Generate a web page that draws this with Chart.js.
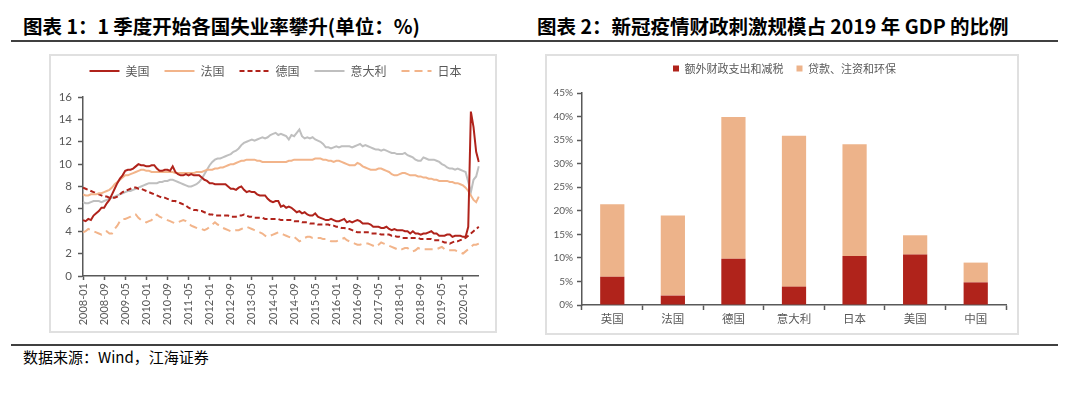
<!DOCTYPE html>
<html>
<head>
<meta charset="utf-8">
<script src="https://cdn.jsdelivr.net/npm/chart.js@4.4.1/dist/chart.umd.min.js"></script>
<style>
  body { margin: 0; width: 1080px; height: 395px; background: #fff; position: relative; overflow: hidden;
         font-family: "Noto Sans CJK SC", sans-serif; }
  .title { position: absolute; top: 13px; font-size: 19.5px; font-weight: bold; color: #000; white-space: nowrap; line-height: 26px; }
  .rule { position: absolute; left: 11px; width: 1047px; height: 2px; background: #404040; }
  .box { position: absolute; border: 2px solid #E0E0E0; box-sizing: border-box; }
  canvas { position: absolute; }
  .src { position: absolute; left: 23px; top: 347px; font-size: 15px; color: #000; line-height: 20px; white-space: nowrap; }
</style>
</head>
<body>
<div class="title" style="left:23px">图表 1：1 季度开始各国失业率攀升(单位：%)</div>
<div class="title" style="left:537px">图表 2：新冠疫情财政刺激规模占 2019 年 GDP 的比例</div>
<div class="rule" style="top:40px"></div>
<div class="box" style="left:49px;top:54px;width:448px;height:279px"></div>
<div class="box" style="left:545px;top:54px;width:474px;height:281px"></div>
<canvas id="graph1" width="455" height="280" style="left:40px;top:50px"></canvas>
<canvas id="graph2" width="473" height="282" style="left:545px;top:50px"></canvas>
<div class="rule" style="top:344px"></div>
<div class="src">数据来源：Wind，江海证券</div>

<script>
// Месяцы 2008-01 .. 2020-07
const years = [2008, 2009, 2010, 2011, 2012, 2013, 2014, 2015, 2016, 2017, 2018, 2019, 2020];
const lastMonth = 7;

// Безработица, %
const usData = [
  5.0, 4.9, 5.1, 5.0, 5.4, 5.6, 5.8, 6.1, 6.1, 6.5, 6.8, 7.3,
  7.8, 8.3, 8.7, 9.0, 9.4, 9.5, 9.5, 9.6, 9.8, 10.0, 9.9, 9.9,
  9.8, 9.8, 9.9, 9.9, 9.6, 9.4, 9.4, 9.5, 9.5, 9.4, 9.8, 9.3,
  9.1, 9.0, 9.0, 9.1, 9.0, 9.1, 9.0, 9.0, 9.0, 8.8, 8.6, 8.5,
  8.3, 8.3, 8.2, 8.2, 8.2, 8.2, 8.2, 8.0, 7.8, 7.8, 7.7, 7.9,
  8.0, 7.7, 7.5, 7.6, 7.5, 7.5, 7.3, 7.2, 7.2, 7.2, 6.9, 6.7,
  6.6, 6.7, 6.7, 6.2, 6.3, 6.1, 6.2, 6.1, 5.9, 5.7, 5.8, 5.6,
  5.7, 5.5, 5.4, 5.4, 5.6, 5.3, 5.2, 5.1, 5.0, 5.0, 5.1, 5.0,
  4.9, 4.9, 5.0, 5.1, 4.8, 4.9, 4.8, 4.9, 5.0, 4.9, 4.7, 4.7,
  4.7, 4.6, 4.4, 4.4, 4.4, 4.3, 4.3, 4.4, 4.2, 4.1, 4.2, 4.1,
  4.1, 4.1, 4.0, 4.0, 3.8, 4.0, 3.8, 3.8, 3.7, 3.8, 3.8, 3.9,
  4.0, 3.8, 3.8, 3.6, 3.6, 3.6, 3.7, 3.7, 3.5, 3.6, 3.6, 3.6,
  3.5, 3.5, 4.4, 14.7, 13.3, 11.1, 10.2
];
const frData = [
  7.3, 7.2, 7.2, 7.3, 7.3, 7.3, 7.4, 7.4, 7.5, 7.6, 7.7, 7.9,
  8.2, 8.4, 8.6, 8.8, 9.0, 9.0, 9.1, 9.2, 9.3, 9.4, 9.5, 9.5,
  9.4, 9.4, 9.3, 9.3, 9.3, 9.3, 9.3, 9.3, 9.3, 9.3, 9.3, 9.2,
  9.2, 9.2, 9.2, 9.2, 9.2, 9.2, 9.2, 9.3, 9.3, 9.3, 9.4, 9.5,
  9.5, 9.5, 9.6, 9.6, 9.7, 9.7, 9.8, 9.9, 10.0, 10.0, 10.1, 10.2,
  10.3, 10.3, 10.4, 10.4, 10.4, 10.4, 10.3, 10.3, 10.2, 10.2, 10.2, 10.2,
  10.2, 10.2, 10.2, 10.2, 10.2, 10.2, 10.3, 10.3, 10.4, 10.4, 10.4, 10.4,
  10.4, 10.4, 10.4, 10.4, 10.5, 10.5, 10.5, 10.4, 10.4, 10.3, 10.3, 10.2,
  10.3, 10.3, 10.2, 10.1, 10.0, 9.9, 9.9, 9.9, 10.1, 10.0, 9.8, 9.7,
  9.6, 9.5, 9.5, 9.5, 9.6, 9.6, 9.5, 9.4, 9.3, 9.1, 9.0, 9.0,
  9.1, 9.2, 9.2, 9.1, 9.0, 9.0, 9.0, 8.9, 8.9, 8.8, 8.8, 8.7,
  8.7, 8.6, 8.6, 8.5, 8.5, 8.5, 8.5, 8.4, 8.4, 8.3, 8.3, 8.2,
  8.1, 7.9, 7.6, 7.2, 6.8, 6.6, 7.1
];
const deData = [
  7.9, 7.8, 7.7, 7.6, 7.5, 7.4, 7.3, 7.2, 7.1, 7.1, 7.0, 7.0,
  7.0, 7.1, 7.3, 7.5, 7.6, 7.7, 7.8, 7.9, 7.9, 7.8, 7.8, 7.7,
  7.6, 7.5, 7.4, 7.3, 7.2, 7.1, 7.0, 7.0, 6.9, 6.8, 6.7, 6.7,
  6.6, 6.5, 6.4, 6.3, 6.1, 6.0, 5.9, 5.9, 5.8, 5.8, 5.7, 5.6,
  5.5, 5.5, 5.4, 5.4, 5.4, 5.4, 5.4, 5.4, 5.3, 5.3, 5.3, 5.4,
  5.4, 5.5, 5.4, 5.3, 5.3, 5.2, 5.2, 5.2, 5.2, 5.1, 5.1, 5.1,
  5.1, 5.1, 5.1, 5.0, 5.0, 5.0, 5.0, 5.0, 4.9, 4.9, 4.9, 4.8,
  4.8, 4.8, 4.7, 4.7, 4.7, 4.6, 4.6, 4.6, 4.6, 4.6, 4.5, 4.5,
  4.4, 4.4, 4.3, 4.3, 4.2, 4.2, 4.1, 4.0, 3.9, 3.9, 3.9, 3.9,
  3.9, 3.8, 3.8, 3.8, 3.8, 3.7, 3.7, 3.7, 3.7, 3.6, 3.6, 3.5,
  3.5, 3.4, 3.4, 3.4, 3.4, 3.4, 3.4, 3.4, 3.3, 3.3, 3.3, 3.3,
  3.3, 3.2, 3.2, 3.2, 3.1, 3.0, 3.0, 2.9, 3.0, 3.1, 3.1, 3.2,
  3.3, 3.4, 3.6, 3.8, 4.0, 4.2, 4.4
];
const itData = [
  6.6, 6.5, 6.5, 6.6, 6.7, 6.7, 6.7, 6.6, 6.7, 6.8, 6.9, 7.0,
  7.1, 7.2, 7.3, 7.4, 7.5, 7.6, 7.6, 7.7, 7.8, 7.9, 8.0, 8.1,
  8.2, 8.3, 8.3, 8.3, 8.3, 8.4, 8.4, 8.5, 8.5, 8.6, 8.6, 8.5,
  8.4, 8.3, 8.2, 8.1, 8.0, 8.0, 8.1, 8.2, 8.4, 8.7, 9.1, 9.5,
  9.9, 10.2, 10.4, 10.5, 10.5, 10.6, 10.7, 10.8, 10.9, 11.1, 11.2, 11.4,
  11.7, 11.9, 12.0, 12.1, 12.2, 12.1, 12.2, 12.3, 12.4, 12.3, 12.4, 12.6,
  12.7, 12.8, 12.6, 12.7, 12.6, 12.5, 12.2, 12.6, 12.5, 12.8, 13.1, 12.5,
  12.3, 12.4, 12.3, 12.4, 12.2, 12.1, 12.0, 11.8, 11.5, 11.5, 11.4, 11.5,
  11.6, 11.5, 11.6, 11.6, 11.6, 11.6, 11.5, 11.6, 11.7, 11.8, 11.6, 11.7,
  11.6, 11.5, 11.4, 11.3, 11.3, 11.2, 11.3, 11.2, 11.1, 11.0, 11.0, 10.9,
  10.9, 10.9, 11.0, 10.8, 10.7, 10.6, 10.4, 10.3, 10.3, 10.6, 10.5, 10.4,
  10.4, 10.4, 10.3, 10.2, 10.0, 9.9, 9.7, 9.6, 9.6, 9.5, 9.6, 9.5,
  9.4, 9.3, 8.4, 7.5, 8.6, 8.9, 9.8
];
const jpData = [
  3.9, 4.0, 4.2, 4.1, 4.0, 3.9, 3.8, 3.7, 3.8, 4.0, 3.8, 3.8,
  4.2, 4.5, 4.9, 5.1, 5.1, 5.2, 5.3, 5.5, 5.5, 5.2, 5.0, 4.9,
  4.8, 4.9, 5.0, 5.3, 5.5, 5.3, 5.2, 5.1, 5.0, 4.9, 4.8, 4.7,
  4.8, 4.9, 5.0, 4.9, 4.7, 4.5, 4.4, 4.3, 4.2, 4.2, 4.1, 4.2,
  4.4, 4.6, 4.8, 4.6, 4.5, 4.3, 4.2, 4.1, 4.0, 4.0, 4.1, 4.1,
  4.2, 4.3, 4.4, 4.3, 4.2, 4.1, 4.0, 3.9, 3.8, 3.6, 3.5, 3.6,
  3.7, 3.8, 3.9, 3.8, 3.7, 3.6, 3.5, 3.4, 3.5, 3.3, 3.1, 3.2,
  3.4, 3.5, 3.5, 3.4, 3.4, 3.4, 3.4, 3.3, 3.3, 3.2, 3.1, 3.1,
  3.1, 3.2, 3.3, 3.4, 3.2, 3.1, 3.0, 2.9, 2.8, 2.8, 2.9, 2.9,
  2.9, 2.8, 2.7, 2.6, 2.8, 3.0, 2.9, 2.8, 2.7, 2.6, 2.5, 2.4,
  2.3, 2.4, 2.5, 2.5, 2.3, 2.2, 2.3, 2.5, 2.4, 2.4, 2.4, 2.4,
  2.4, 2.4, 2.4, 2.5, 2.6, 2.4, 2.3, 2.3, 2.3, 2.3, 2.2, 2.1,
  2.0, 2.2, 2.4, 2.6, 2.8, 2.8, 2.9
];

// Фискальные меры, % ВВП 2019
const countries = ['英国', '法国', '德国', '意大利', '日本', '美国', '中国'];
const fiscalData = [6.0, 2.0, 9.8, 3.9, 10.4, 10.7, 4.8];
const loanData = [15.4, 17.0, 30.1, 32.0, 23.7, 4.1, 4.2];

const monthLabels = [];
years.forEach(y => {
    const n = y === 2020 ? lastMonth : 12;
    for (let m = 1; m <= n; m++) monthLabels.push(y + '-' + String(m).padStart(2, '0'));
});

const gray = '#595959';
const red = '#B0231B';
const peach = '#EDB38A';

// Высота и сдвиг легенды задаются вручную
const legendTweak = {
    id: 'legendTweak',
    beforeInit(chart, args, opts) {
        const legend = chart.legend;
        const fit = legend.fit;
        legend.fit = function () {
            fit.call(this);
            this.height = opts.h;
        };
        const draw = legend.draw;
        legend.draw = function (area) {
            this.ctx.save();
            this.ctx.translate(opts.dx, 0);
            draw.call(this, area);
            this.ctx.restore();
        };
    }
};

function lineSet(label, data, color, dash) {
    return {
        label: label,
        data: data,
        borderColor: color,
        backgroundColor: color,
        borderWidth: 2,
        borderDash: dash || [],
        pointRadius: 0,
        tension: 0
    };
}

// Легенда с пунктиром как у линий
function lineLegend(chart) {
    const items = Chart.defaults.plugins.legend.labels.generateLabels(chart);
    return items.map((item, i) => {
        const ds = chart.data.datasets[i];
        item.lineDash = ds.borderDash;
        item.lineWidth = 2;
        item.strokeStyle = ds.borderColor;
        return item;
    });
}

new Chart(document.getElementById('graph1'), {
    type: 'line',
    data: {
        labels: monthLabels,
        datasets: [
            lineSet('美国', usData, red),
            lineSet('法国', frData, '#F2B48A'),
            lineSet('德国', deData, red, [5, 3]),
            lineSet('意大利', itData, '#BFBFBF'),
            lineSet('日本', jpData, '#F2B48A', [8, 5])
        ]
    },
    options: {
        responsive: false,
        animation: false,
        layout: { padding: { left: 0, right: 12, top: 0, bottom: 0 } },
        scales: {
            x: {
                afterFit: s => { s.height = 54; },
                grid: {
                    drawOnChartArea: false,
                    tickLength: 4,
                    tickWidth: 1.5,
                    tickColor: c => c.index % 8 === 0 ? gray : 'rgba(0,0,0,0)'
                },
                border: { color: gray, width: 1.5 },
                ticks: {
                    autoSkip: false,
                    maxRotation: 90,
                    minRotation: 90,
                    padding: 3,
                    color: gray,
                    font: { family: 'Lato', size: 11 },
                    callback: (v, i) => i % 8 === 0 ? monthLabels[i] : ''
                }
            },
            y: {
                min: 0,
                max: 16,
                afterFit: s => { s.width = 43; },
                grid: { drawOnChartArea: false, tickLength: 5, tickWidth: 1.5, tickColor: gray },
                border: { color: gray, width: 1.5 },
                ticks: { stepSize: 2, padding: 6, color: gray, font: { family: 'Lato', size: 11.5 } }
            }
        },
        plugins: {
            legendTweak: { h: 47, dx: 14 },
            tooltip: { enabled: false },
            legend: {
                labels: {
                    usePointStyle: true,
                    pointStyle: 'line',
                    pointStyleWidth: 30,
                    padding: 15,
                    color: gray,
                    font: { family: '"Noto Sans CJK SC"', size: 12 },
                    generateLabels: lineLegend
                }
            }
        }
    },
    plugins: [legendTweak]
});

new Chart(document.getElementById('graph2'), {
    type: 'bar',
    data: {
        labels: countries,
        datasets: [
            { label: '额外财政支出和减税', data: fiscalData, backgroundColor: red,
              barPercentage: 0.4, categoryPercentage: 1 },
            { label: '贷款、注资和环保', data: loanData, backgroundColor: peach,
              barPercentage: 0.4, categoryPercentage: 1 }
        ]
    },
    options: {
        responsive: false,
        animation: false,
        layout: { padding: { left: 0, right: 12, top: 0, bottom: 0 } },
        scales: {
            x: {
                stacked: true,
                afterFit: s => { s.height = 27; },
                grid: { drawOnChartArea: false, tickLength: 5, tickWidth: 1.5, tickColor: gray },
                border: { color: gray, width: 1.5 },
                ticks: { padding: 2, color: gray, font: { family: '"Noto Sans CJK SC"', size: 11.5 } }
            },
            y: {
                stacked: true,
                min: 0,
                max: 45,
                afterFit: s => { s.width = 37; },
                grid: { drawOnChartArea: false, tickLength: 5, tickWidth: 1.5, tickColor: gray },
                border: { color: gray, width: 1.5 },
                ticks: { stepSize: 5, padding: 4, color: gray, font: { family: 'Lato', size: 10 },
                         callback: v => v + '%' }
            }
        },
        plugins: {
            legendTweak: { h: 43, dx: 9 },
            tooltip: { enabled: false },
            legend: {
                labels: {
                    boxWidth: 6,
                    boxHeight: 6,
                    padding: 13,
                    color: gray,
                    font: { family: '"Noto Sans CJK SC"', size: 11 }
                }
            }
        }
    },
    plugins: [legendTweak]
});
</script>
</body>
</html>
